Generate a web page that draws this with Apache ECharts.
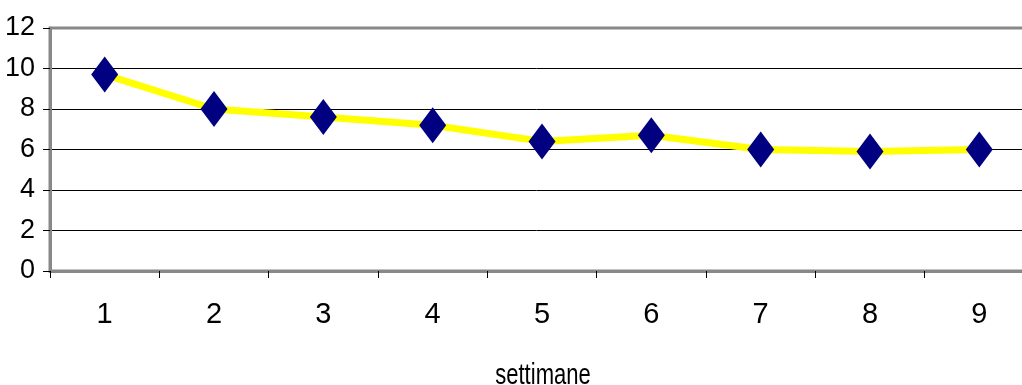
<!DOCTYPE html>
<html>
<head>
<meta charset="utf-8">
<script src="https://cdn.jsdelivr.net/npm/echarts@6/dist/echarts.min.js"></script>
<style>
  html, body { margin: 0; padding: 0; background: #fff; }
  #chart { width: 1022px; height: 385px; }
</style>
</head>
<body>
<div id="chart"></div>
<script>
// Weekly values
const weeks = ['1', '2', '3', '4', '5', '6', '7', '8', '9'];
const values = [9.7, 8.0, 7.6, 7.2, 6.4, 6.7, 6.0, 5.9, 6.0];
const yTicks = { min: 0, max: 12, interval: 2 };
const xTitle = 'settimane';

const FONT = '"Liberation Sans", Arial, Helvetica, sans-serif';

const chart = echarts.init(document.getElementById('chart'), null, { renderer: 'canvas' });

chart.setOption({
  animation: false,
  backgroundColor: '#ffffff',
  // plot area runs a little past the right edge of the canvas
  grid: {
    left: 50,
    top: 28,
    height: 243,
    width: 984,
    outerBoundsMode: 'none',
    containLabel: false,
    show: true,
    borderColor: '#888888',
    borderWidth: 3,
    backgroundColor: 'transparent'
  },
  xAxis: {
    type: 'category',
    data: weeks,
    boundaryGap: true,
    axisLine: { show: true, lineStyle: { color: '#888888', width: 3 } },
    axisTick: { show: true, interval: 0, length: 7, lineStyle: { color: '#000', width: 1 } },
    axisLabel: {
      interval: 0,
      margin: 44,
      verticalAlign: 'middle',
      color: '#000',
      fontFamily: FONT,
      fontSize: 29
    },
    splitLine: { show: false }
  },
  yAxis: {
    type: 'value',
    min: yTicks.min,
    max: yTicks.max,
    interval: yTicks.interval,
    axisLine: { show: true, lineStyle: { color: '#888888', width: 3 } },
    axisTick: { show: true, length: 7, lineStyle: { color: '#000', width: 1 } },
    axisLabel: {
      margin: 15,
      color: '#000',
      fontFamily: FONT,
      fontSize: 27
    },
    splitLine: {
      show: true,
      lineStyle: {
        color: ['#000', '#000', '#000', '#000', '#000', '#000', '#888888'],
        width: 1
      }
    }
  },
  graphic: [{
    type: 'text',
    x: 543,
    y: 376,
    scaleX: 0.76,
    style: {
      text: xTitle,
      font: '29px ' + FONT,
      textAlign: 'center',
      textVerticalAlign: 'middle',
      fill: '#000'
    }
  }],
  series: [{
    type: 'line',
    data: values,
    lineStyle: { color: '#ffff00', width: 7, join: 'round', cap: 'round' },
    itemStyle: { color: '#000080', borderWidth: 0 },
    symbol: 'diamond',
    symbolSize: [27, 36],
    showSymbol: true,
    z: 3
  }]
});
</script>
</body>
</html>
